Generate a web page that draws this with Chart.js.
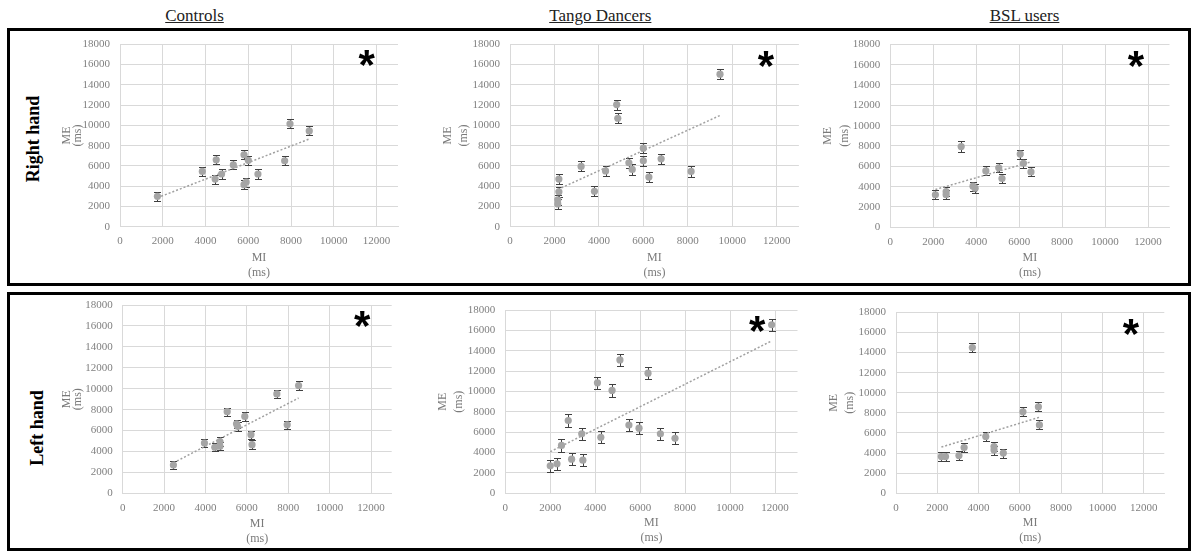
<!DOCTYPE html>
<html><head><meta charset="utf-8">
<script src="https://cdn.jsdelivr.net/npm/chart.js@4.4.1/dist/chart.umd.min.js"></script>
<style>
html,body{margin:0;padding:0;background:#fff}
body{position:relative;width:1192px;height:551px;overflow:hidden;font-family:"Liberation Serif","Times New Roman",serif}
.box{position:absolute;border:3px solid #000;box-sizing:border-box}
.hdr{position:absolute;font-family:"Liberation Serif","Times New Roman",serif;font-size:17px;line-height:17px;color:#222;text-decoration:underline;white-space:nowrap;transform:translateX(-50%)}
.row{position:absolute;font-family:"Liberation Serif","Times New Roman",serif;font-size:18px;line-height:18px;font-weight:bold;color:#000;white-space:nowrap;transform:translate(-50%,-50%) rotate(-90deg)}
.star{position:absolute;font-family:"Liberation Sans",Arial,sans-serif;font-weight:bold;font-size:42px;line-height:42px;color:#000;transform:translateX(-50%)}
canvas{position:absolute}
</style></head><body>
<div class="box" style="left:7px;top:28px;width:1184px;height:258px"></div>
<div class="box" style="left:7px;top:292px;width:1184px;height:259px"></div>
<script>
// ---------- text ----------
const groups = ['Controls', 'Tango Dancers', 'BSL users'];
const hands = ['Right hand', 'Left hand'];
const xTitle = ['MI', '(ms)'];
const yTitle = ['ME', '(ms)'];
const starLabel = '*';

// ---------- tick labels ----------
const xTickValues = [0, 2000, 4000, 6000, 8000, 10000, 12000];
const yTickValues = [0, 2000, 4000, 6000, 8000, 10000, 12000, 14000, 16000, 18000];

// ---------- data (MI = x, ME = y, error = +/-) ----------
const controlsRightMI  = [1750, 3850, 4450, 4500, 4750, 5300, 5800, 5800, 5900, 6000, 6450, 7700, 7950, 8850];
const controlsRightME  = [3000, 5450, 4700, 6600, 5200, 6100, 7100, 4150, 4400, 6550, 5200, 6500, 10150, 9450];
const controlsRightErr = [450, 450, 450, 450, 450, 450, 450, 450, 450, 450, 450, 450, 450, 450];

const tangoRightMI  = [2200, 2200, 2150, 2150, 3200, 3800, 4300, 4800, 4850, 5350, 5500, 6000, 6000, 6250, 6800, 8150, 9450];
const tangoRightME  = [4700, 3450, 2650, 2250, 5950, 3500, 5500, 12050, 10700, 6300, 5650, 7750, 6500, 4900, 6700, 5450, 15050];
const tangoRightErr = [500, 500, 500, 500, 500, 500, 500, 500, 500, 500, 500, 500, 500, 500, 500, 500, 500];

const bslRightMI  = [2100, 2600, 2600, 3300, 3850, 3950, 4450, 5050, 5200, 6050, 6200, 6550];
const bslRightME  = [3200, 3500, 3200, 7950, 4050, 3850, 5550, 5850, 4800, 7200, 6300, 5450];
const bslRightErr = [450, 450, 450, 500, 450, 450, 450, 450, 450, 450, 450, 450];

const controlsLeftMI  = [2450, 3950, 4450, 4700, 4700, 5050, 5500, 5550, 5900, 6200, 6250, 7450, 7950, 8500];
const controlsLeftME  = [2700, 4800, 4400, 4950, 4500, 7800, 6650, 6400, 7350, 5600, 4650, 9500, 6550, 10300];
const controlsLeftErr = [400, 400, 400, 400, 400, 400, 400, 400, 400, 400, 400, 400, 400, 400];

const tangoLeftMI  = [2000, 2300, 2500, 2800, 2950, 3400, 3450, 4100, 4250, 4750, 5100, 5500, 5950, 6350, 6900, 7550, 11850];
const tangoLeftME  = [2700, 2900, 4700, 7150, 3350, 5850, 3250, 10850, 5500, 10100, 13100, 6700, 6400, 11800, 5850, 5400, 16550];
const tangoLeftErr = [600, 600, 600, 600, 600, 600, 600, 600, 600, 600, 600, 600, 600, 600, 600, 600, 600];

const bslLeftMI  = [2200, 2400, 3050, 3300, 3700, 4350, 4750, 4750, 5200, 6150, 6900, 6950];
const bslLeftME  = [3650, 3650, 3750, 4550, 14500, 5650, 4650, 4300, 4000, 8100, 8600, 6800];
const bslLeftErr = [450, 450, 450, 450, 450, 450, 450, 450, 450, 450, 450, 450];

// ---------- layout (page pixels) ----------
const panels = [
  {mi: controlsRightMI, me: controlsRightME, err: controlsRightErr, l: 120,   t: 44.3,  r: 398,    b: 226.7, meX: 67,    yLh: 11, msY: 273.3, xLh: 15,   star: [366.7, 55]},
  {mi: tangoRightMI,    me: tangoRightME,    err: tangoRightErr,    l: 510,   t: 44.3,  r: 798.9,  b: 226.7, meX: 447.5, yLh: 16, msY: 273.3, xLh: 15.5, star: [766, 56.5]},
  {mi: bslRightMI,      me: bslRightME,      err: bslRightErr,      l: 890.3, t: 44.3,  r: 1169.5, b: 227.3, meX: 828,   yLh: 17, msY: 273.3, xLh: 15.5, star: [1136, 56.5]},
  {mi: controlsLeftMI,  me: controlsLeftME,  err: controlsLeftErr,  l: 122.7, t: 305,   r: 391.7,  b: 493.3, meX: 67,    yLh: 11, msY: 539,   xLh: 15.5, star: [362.3, 316.7]},
  {mi: tangoLeftMI,     me: tangoLeftME,     err: tangoLeftErr,     l: 505.3, t: 310,   r: 797.5,  b: 493.3, meX: 442.5, yLh: 16, msY: 537.7, xLh: 14.5, star: [757.3, 321.7]},
  {mi: bslLeftMI,       me: bslLeftME,       err: bslLeftErr,       l: 896,   t: 312.3, r: 1164.3, b: 493.3, meX: 833.5, yLh: 16, msY: 538.3, xLh: 15,   star: [1131, 324.3]}
];
const xMax = 13000, yMax = 18000;
const headerPos = [[194.5, 6.5], [600.3, 6.5], [1024.5, 6.5]];
const handPos = [[33.3, 139], [36.7, 428.3]];

// ---------- static text ----------
groups.forEach((g, i) => {
  const d = document.createElement('div');
  d.className = 'hdr'; d.textContent = g;
  d.style.left = headerPos[i][0] + 'px'; d.style.top = headerPos[i][1] + 'px';
  document.body.appendChild(d);
});
hands.forEach((h, i) => {
  const d = document.createElement('div');
  d.className = 'row'; d.textContent = h;
  d.style.left = handPos[i][0] + 'px'; d.style.top = handPos[i][1] + 'px';
  document.body.appendChild(d);
});

function linFit(xs, ys) {
  const n = xs.length;
  const mx = xs.reduce((a, v) => a + v, 0) / n;
  const my = ys.reduce((a, v) => a + v, 0) / n;
  let sxy = 0, sxx = 0;
  for (let i = 0; i < n; i++) { sxy += (xs[i] - mx) * (ys[i] - my); sxx += (xs[i] - mx) * (xs[i] - mx); }
  const b = sxy / sxx;
  return {a: my - b * mx, b};
}

const errorBarPlugin = {
  id: 'errorBars',
  beforeDatasetsDraw(chart) {
    const ds = chart.data.datasets[1];
    const meta = chart.getDatasetMeta(1);
    const ys = chart.scales.y;
    const ctx = chart.ctx;
    ctx.save();
    ctx.strokeStyle = '#3f3f3f';
    ctx.lineWidth = 1;
    meta.data.forEach((pt, i) => {
      const v = ds.data[i].y, e = ds.errors[i];
      const x = Math.round(pt.x) + 0.5;
      const yT = Math.round(ys.getPixelForValue(v + e)) + 0.5;
      const yB = Math.round(ys.getPixelForValue(v - e)) + 0.5;
      ctx.beginPath();
      ctx.moveTo(x, yT); ctx.lineTo(x, yB);
      ctx.moveTo(x - 3.5, yT); ctx.lineTo(x + 3.5, yT);
      ctx.moveTo(x - 3.5, yB); ctx.lineTo(x + 3.5, yB);
      ctx.stroke();
    });
    ctx.restore();
  }
};

const serif = "'Liberation Serif', 'Times New Roman', serif";
const tickFont = {family: serif, size: 11};
const tickColor = '#808080';
const gridColor = '#d9d9d9';
const plainNumber = v => String(v);

panels.forEach(p => {
  const cLeft = Math.floor(p.meX - p.yLh / 2 - 4);
  const cTop = Math.floor(p.t - 10);
  const cRight = Math.ceil(p.r + 4);
  const cBottom = Math.ceil(p.msY + p.xLh / 2 + 3);
  const cv = document.createElement('canvas');
  cv.width = cRight - cLeft; cv.height = cBottom - cTop;
  cv.style.left = cLeft + 'px'; cv.style.top = cTop + 'px';
  cv.style.width = cv.width + 'px'; cv.style.height = cv.height + 'px';
  document.body.appendChild(cv);

  const fit = linFit(p.mi, p.me);
  const x0 = Math.min(...p.mi), x1 = Math.max(...p.mi);

  new Chart(cv.getContext('2d'), {
    type: 'scatter',
    data: {
      datasets: [
        {data: [{x: x0, y: fit.a + fit.b * x0}, {x: x1, y: fit.a + fit.b * x1}],
         showLine: true, borderColor: '#a0a0a0', borderWidth: 1.5, borderDash: [2, 2],
         pointRadius: 0, fill: false, order: 1},
        {data: p.mi.map((x, i) => ({x, y: p.me[i]})), errors: p.err,
         pointRadius: 3.6, pointHoverRadius: 3.6, backgroundColor: '#a5a5a5', borderColor: '#a5a5a5',
         borderWidth: 0, order: 0}
      ]
    },
    options: {
      responsive: false, animation: false, devicePixelRatio: 1, events: [],
      layout: {padding: {left: 0, top: p.t - cTop, right: cRight - p.r, bottom: 0}},
      plugins: {legend: {display: false}, tooltip: {enabled: false}},
      scales: {
        x: {
          type: 'linear', position: 'bottom', min: 0, max: xMax,
          afterBuildTicks: s => { s.ticks = xTickValues.map(v => ({value: v})); },
          afterFit: s => { s.height = cBottom - p.b; s.paddingLeft = 0; s.paddingRight = 0; },
          grid: {color: gridColor, lineWidth: 1, drawTicks: false},
          border: {color: gridColor, width: 1},
          ticks: {padding: 8, autoSkip: false, maxRotation: 0, color: tickColor, font: tickFont, callback: plainNumber},
          title: {display: true, text: xTitle, color: '#7a7a7a',
                  font: {family: serif, size: 12, lineHeight: p.xLh + 'px'},
                  padding: {top: 0, bottom: cBottom - p.msY - p.xLh / 2}}
        },
        y: {
          type: 'linear', position: 'left', min: 0, max: yMax,
          afterBuildTicks: s => { s.ticks = yTickValues.map(v => ({value: v})); },
          afterFit: s => { s.width = p.l - cLeft; s.paddingTop = 0; s.paddingBottom = 0; },
          grid: {color: gridColor, lineWidth: 1, drawTicks: false},
          border: {color: gridColor, width: 1},
          ticks: {padding: 10, autoSkip: false, color: tickColor, font: tickFont, callback: plainNumber},
          title: {display: true, text: yTitle, color: '#7a7a7a',
                  font: {family: serif, size: 12, lineHeight: p.yLh + 'px'},
                  padding: {top: p.meX - cLeft - p.yLh / 2, bottom: 0}}
        }
      }
    },
    plugins: [errorBarPlugin]
  });

  const s = document.createElement('div');
  s.className = 'star'; s.textContent = starLabel;
  s.style.left = p.star[0] + 'px'; s.style.top = (p.star[1] - 11.5) + 'px';
  document.body.appendChild(s);
});
</script>
</body></html>
